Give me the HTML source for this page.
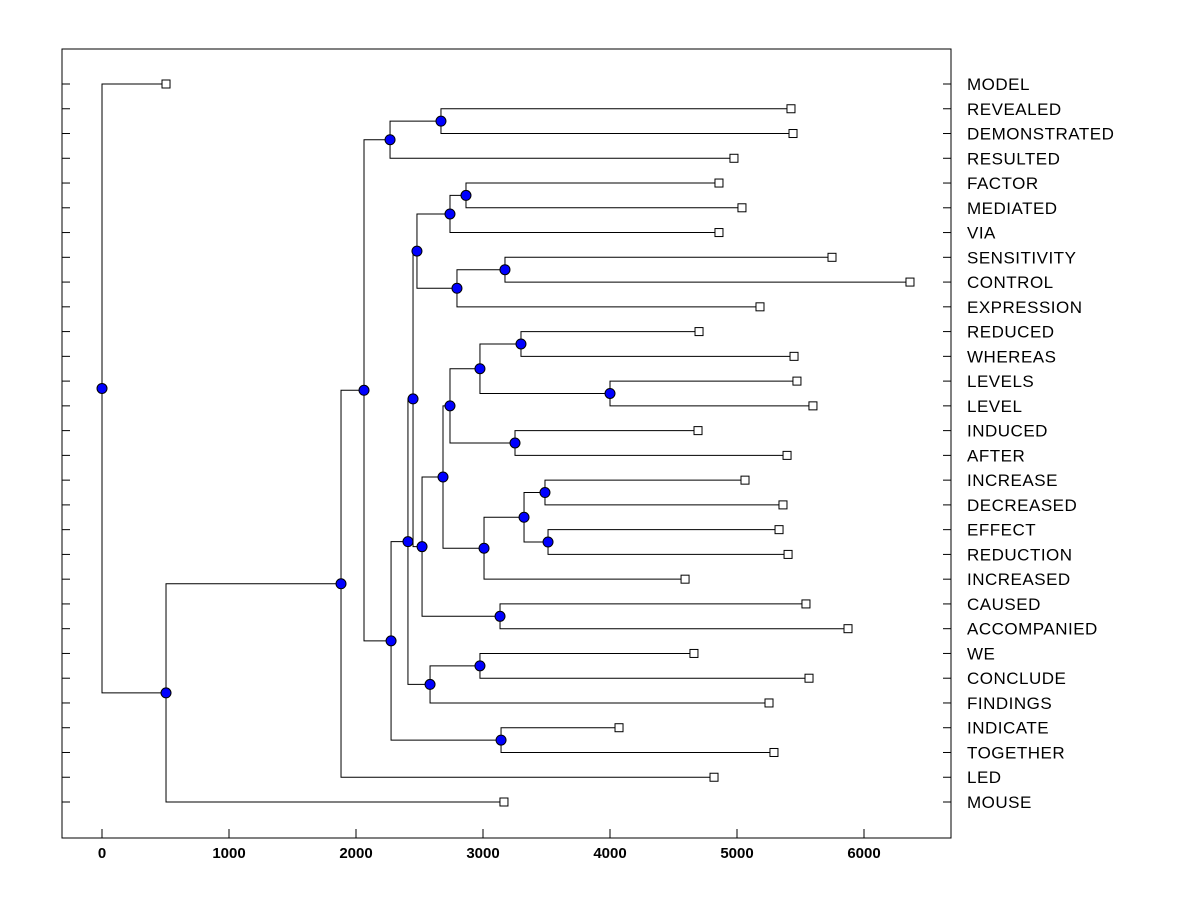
<!DOCTYPE html>
<html><head><meta charset="utf-8"><style>
html,body{margin:0;padding:0;background:#fff}
svg{display:block;font-family:"Liberation Sans",Arial,sans-serif}
</style></head><body>
<svg id="chart" width="1200" height="900"></svg>
<script>
// leaf labels (top to bottom)
const leafLabels = ["MODEL","REVEALED","DEMONSTRATED","RESULTED","FACTOR","MEDIATED","VIA","SENSITIVITY","CONTROL","EXPRESSION","REDUCED","WHEREAS","LEVELS","LEVEL","INDUCED","AFTER","INCREASE","DECREASED","EFFECT","REDUCTION","INCREASED","CAUSED","ACCOMPANIED","WE","CONCLUDE","FINDINGS","INDICATE","TOGETHER","LED","MOUSE"];
// leaf end values
const leafValues = [504,5425,5441,4976,4858,5039,4858,5748,6362,5181,4701,5449,5472,5598,4693,5394,5063,5362,5331,5402,4591,5543,5874,4661,5567,5252,4071,5291,4819,3165];
// internal node ids, heights and children (leaf refs "L<i>", node refs by id)
const nodeIds     = ["root","A","B","C","D","F","E","I","K","G","Z","AB","AA","AC","M","N","P","R","T","U","S","Q","V","W","X","O","L","Y","J"];
const nodeHeights = [0,504,1882,2063,2268,2669,2276,2409,2449,2480,2740,2866,2795,3173,2520,2685,2740,2976,3299,4000,3252,3008,3323,3488,3512,3134,2583,2976,3142];
const nodeLeft    = ["L0","B","C","D","F","L1","I","K","G","Z","AB","L4","AC","L7","N","P","R","T","L10","L12","L14","V","W","L16","L18","L21","Y","L23","L26"];
const nodeRight   = ["A","L29","L28","E","L3","L2","J","L","M","AA","L6","L5","L9","L8","O","Q","S","U","L11","L13","L15","L20","X","L17","L19","L22","L25","L24","L27"];
const xTicks = [0,1000,2000,3000,4000,5000,6000];

const svg = document.getElementById('chart');
const NS = 'http://www.w3.org/2000/svg';
const PL=62, PR=951, PT=49, PB=838;
const xMin=-315, xMax=6685;
const x = v => PL + (v - xMin) / (xMax - xMin) * (PR - PL);
const rowY = i => 84 + i * (802 - 84) / 29;
function el(tag, attrs, parent){
  const e = document.createElementNS(NS, tag);
  for (const k in attrs) e.setAttribute(k, attrs[k]);
  (parent||svg).appendChild(e);
  return e;
}
const frame = el('rect',{x:PL,y:PT,width:PR-PL,height:PB-PT,fill:'none',stroke:'#000','stroke-width':1});



// x ticks
xTicks.forEach(t=>{
  const ln = el('line',{x1:x(t),x2:x(t),y1:PB,y2:PB-9,stroke:'#000'});
  
  
  const tx = el('text',{x:x(t),y:PB+20,'text-anchor':'middle','font-size':15,'font-weight':'bold',fill:'#000'});
  tx.textContent = t;
  
  
});

// leaves: row ticks and labels
leafLabels.forEach((lab,i)=>{
  const y = rowY(i);
  const t1 = el('line',{x1:PL,x2:PL+8,y1:y,y2:y,stroke:'#000'});
  
  
  const t2 = el('line',{x1:PR-8,x2:PR,y1:y,y2:y,stroke:'#000'});
  
  
  const tx = el('text',{x:967,y:y+6,'font-size':17,'letter-spacing':0.5,fill:'#000'});
  tx.textContent = lab;
  
  
});

// compute positions
const pos = {};
function getPos(ref){
  if (/^L\d+$/.test(ref)) { const i=+ref.slice(1); return {x:x(leafValues[i]), y:rowY(i), leaf:true}; }
  if (pos[ref]) return pos[ref];
  const k = nodeIds.indexOf(ref);
  const a = getPos(nodeLeft[k]), b = getPos(nodeRight[k]);
  pos[ref] = {x:x(nodeHeights[k]), y:(a.y+b.y)/2, leaf:false};
  return pos[ref];
}
const g = el('g',{});


const marks = [];
nodeIds.forEach((id,k)=>{
  const p = getPos(id);
  [nodeLeft[k], nodeRight[k]].forEach(ref=>{
    const c = getPos(ref);
    const pl = el('polyline',{points:`${p.x},${p.y} ${p.x},${c.y} ${c.x},${c.y}`,fill:'none',stroke:'#000','stroke-width':1},g);
    
    
    if (c.leaf) marks.push(c);
  });
});
marks.forEach(c=>{
  const r = el('rect',{x:c.x-4,y:c.y-4,width:8,height:8,fill:'#fff',stroke:'#000'});
  
  
});
nodeIds.forEach(id=>{
  const p = pos[id];
  const c = el('circle',{cx:p.x,cy:p.y,r:5,fill:'#0000ff',stroke:'#000','stroke-width':1});
  
  
});
</script>
</body></html>
